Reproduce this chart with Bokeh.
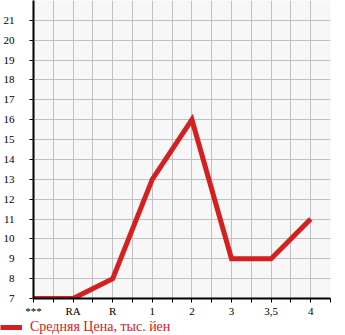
from bokeh.plotting import figure
from bokeh.models import FixedTicker, Legend, LegendItem, Range1d
from bokeh.layouts import column
from bokeh.embed import file_html
from bokeh.resources import INLINE

categories = ["***", "RA", "R", "1", "2", "3", "3,5", "4"]
prices = [7, 7, 8, 13, 16, 9, 9, 11]
y_ticks = list(range(7, 22))
legend_label = "Средняя Цена, тыс. йен"

xs = list(range(len(categories)))
red = "#d42020"
font = "Liberation Serif"

p = figure(width=345, height=319, output_backend="svg", toolbar_location=None,
           x_range=Range1d(0, 7.5), y_range=Range1d(7, 22),
           min_border_left=30, min_border_right=15, min_border_top=0, min_border_bottom=19)
p.background_fill_color = "#f7f7f7"
p.border_fill_color = "white"
p.outline_line_color = None

r = p.line(xs, prices, line_color=red, line_width=5, line_join="miter")

xt = [i * 0.5 for i in range(16)]
p.xaxis.ticker = FixedTicker(ticks=xt)
overrides = {}
for t in xt:
    if abs(t - round(t)) < 1e-9:
        overrides[t] = categories[int(round(t))]
    else:
        overrides[t] = ""
p.xaxis.major_label_overrides = overrides
p.yaxis.ticker = FixedTicker(ticks=y_ticks)
p.xgrid.ticker = FixedTicker(ticks=xt)
p.ygrid.ticker = FixedTicker(ticks=y_ticks + [22])

for ax in (p.xaxis, p.yaxis):
    ax.axis_line_color = "black"
    ax.axis_line_width = 2
    ax.major_tick_line_color = "black"
    ax.major_tick_line_width = 1
    ax.major_tick_out = 4
    ax.major_tick_in = 0
    ax.minor_tick_line_color = None
    ax.major_label_text_font = font
    ax.major_label_text_font_size = "11px"
    ax.major_label_text_color = "black"
p.yaxis.major_label_standoff = 15
p.xaxis.major_label_standoff = 2

p.grid.grid_line_color = "#c0c0c0"
p.grid.grid_line_width = 1

# legend strip
lg = figure(width=345, height=16, output_backend="svg", toolbar_location=None,
            x_range=Range1d(100, 101), y_range=Range1d(100, 101),
            x_axis_type=None, y_axis_type=None, min_border=0,
            min_border_left=0, min_border_right=0, min_border_top=0, min_border_bottom=0)
lg.outline_line_color = None
lg.grid.visible = False
lr = lg.line(xs, prices, line_color=red, line_width=5)
legend = Legend(items=[LegendItem(label=legend_label, renderers=[lr])],
                location=(0, 0), padding=0, margin=0,
                border_line_color=None, background_fill_alpha=0,
                label_text_color=red, label_text_font=font,
                label_text_font_size="14px", glyph_width=22, glyph_height=16,
                label_standoff=8, label_height=16)
lg.add_layout(legend)

layout = column(p, column(lg, spacing=0), spacing=0)
open("out.html", "w").write(file_html(layout, INLINE))
